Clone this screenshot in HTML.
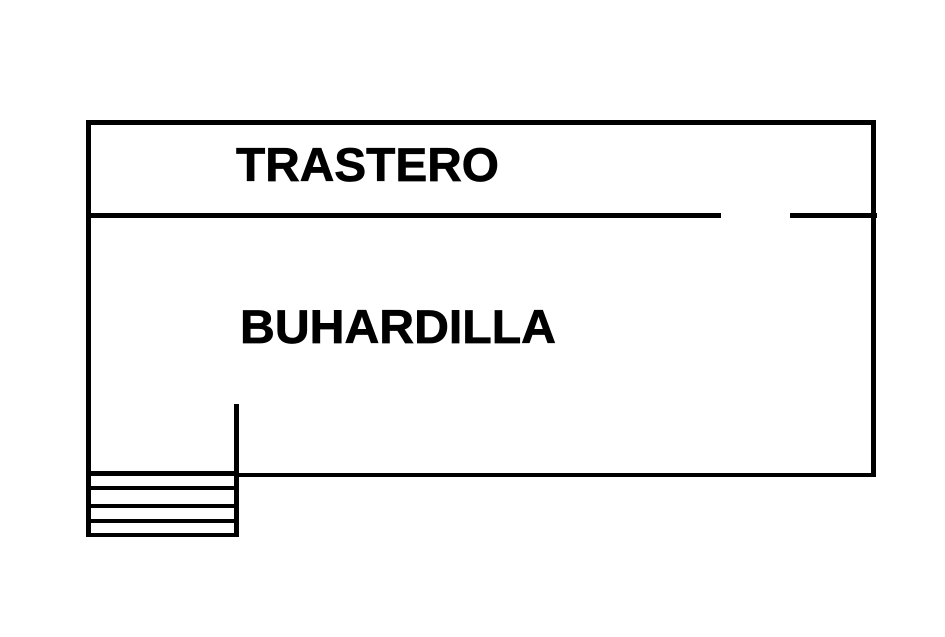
<!DOCTYPE html>
<html><head><style>html,body{margin:0;padding:0;background:#fff;width:945px;height:637px;overflow:hidden}</style></head>
<body>
<svg width="945" height="637" viewBox="0 0 945 637" xmlns="http://www.w3.org/2000/svg">
<g fill="#000">
<rect x="86" y="120" width="790" height="5"/>
<rect x="86" y="120" width="5" height="417"/>
<rect x="871" y="120" width="5" height="357"/>
<rect x="86" y="213" width="635" height="5"/>
<rect x="790" y="213" width="87" height="5"/>
<rect x="234" y="404" width="5" height="133"/>
<rect x="236" y="473" width="640" height="4"/>
<rect x="86" y="471" width="152" height="5"/>
<rect x="86" y="486" width="152" height="4"/>
<rect x="86" y="504" width="152" height="4"/>
<rect x="86" y="519" width="152" height="4"/>
<rect x="86" y="533" width="153" height="4"/>
</g>
<text x="236" y="181" font-family="Liberation Sans, Arial, sans-serif" font-weight="bold" font-size="47" stroke="#000" stroke-width="0.7" textLength="263" lengthAdjust="spacingAndGlyphs">TRASTERO</text>
<text x="240" y="343" font-family="Liberation Sans, Arial, sans-serif" font-weight="bold" font-size="47" stroke="#000" stroke-width="0.7" textLength="316" lengthAdjust="spacingAndGlyphs">BUHARDILLA</text>
</svg>
</body></html>
